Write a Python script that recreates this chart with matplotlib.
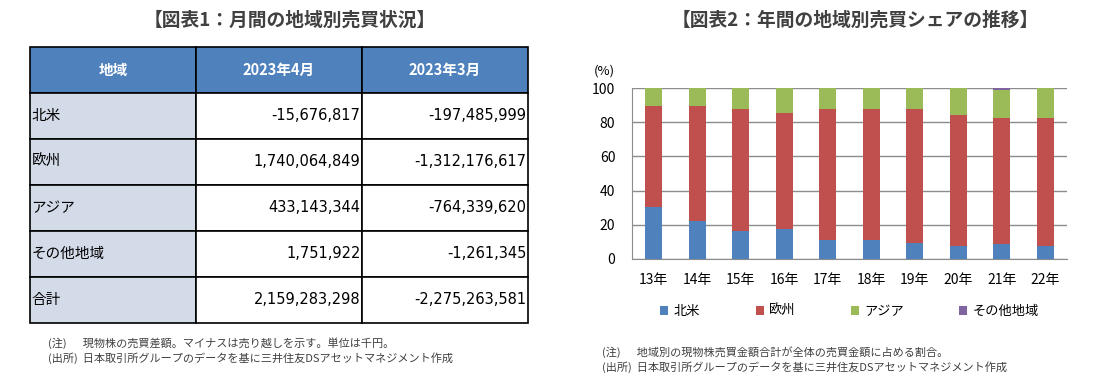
import matplotlib.pyplot as plt
import numpy as np

plt.rcParams['font.family'] = ['Noto Sans CJK JP', 'DejaVu Sans']

# table data (単位: 千円)
regions = ['北米', '欧州', 'アジア', 'その他地域', '合計']
col_header = ['地域', '2023年4月', '2023年3月']
apr = ['-15,676,817', '1,740,064,849', '433,143,344', '1,751,922', '2,159,283,298']
mar = ['-197,485,999', '-1,312,176,617', '-764,339,620', '-1,261,345', '-2,275,263,581']

# share chart data (%)
years = ['13年', '14年', '15年', '16年', '17年', '18年', '19年', '20年', '21年', '22年']
na = [30.5, 22.4, 16.5, 17.7, 11.1, 11.1, 9.5, 7.8, 8.6, 7.8]
eu = [59.0, 67.1, 71.2, 67.5, 76.6, 76.6, 78.2, 76.4, 73.7, 74.5]
asia = [10.4, 10.4, 12.2, 14.7, 12.2, 12.2, 12.2, 15.6, 16.5, 17.5]
other = [0.1, 0.1, 0.1, 0.1, 0.1, 0.1, 0.1, 0.2, 1.2, 0.2]
series_names = ['北米', '欧州', 'アジア', 'その他地域']
colors = ['#4F81BD', '#C0504D', '#9BBB59', '#8064A2']

W, H = 1118, 381
fig = plt.figure(figsize=(W / 100, H / 100), dpi=100)

def px_axes(x0, y0, x1, y1):
    return fig.add_axes([x0 / W, 1 - y1 / H, (x1 - x0) / W, (y1 - y0) / H])

# ---- left: table ----
tax = px_axes(30, 47, 528, 323)
tax.axis('off')
cell_text = [[r, a, m] for r, a, m in zip(regions, apr, mar)]
tbl = tax.table(cellText=cell_text, colLabels=col_header, bbox=[0, 0, 1, 1])
tbl.auto_set_font_size(False)
for (r, c), cell in tbl.get_celld().items():
    cell.set_edgecolor('black')
    cell.set_linewidth(1.2)
    cell.PAD = 0.01
    txt = cell.get_text()
    txt.set_fontsize(10.5)
    if r == 0:
        cell.set_facecolor('#4F81BD')
        txt.set_color('white')
        txt.set_fontweight('bold')
        txt.set_fontsize(10.5)
        txt.set_ha('center')
    elif c == 0:
        cell.set_facecolor('#D3DAE8')
        txt.set_ha('left')
    else:
        cell.set_facecolor('white')
        txt.set_ha('right')
        txt.set_family(['DejaVu Sans'])

fig.text(290 / W, 1 - 20 / H, '【図表1：月間の地域別売買状況】', ha='center', va='center',
         fontsize=13.5, fontweight='bold', color='#404040')
fig.text(48 / W, 1 - 343 / H, '(注)　  現物株の売買差額。マイナスは売り越しを示す。単位は千円。',
         fontsize=8, color='#404040', va='center')
fig.text(48 / W, 1 - 358 / H, '(出所)  日本取引所グループのデータを基に三井住友DSアセットマネジメント作成',
         fontsize=8, color='#404040', va='center')

# ---- right: stacked bar chart ----
ax = px_axes(632, 88, 1067, 259)
x = np.arange(len(years))
bottom = np.zeros(len(years))
for vals, name, col in zip([na, eu, asia, other], series_names, colors):
    ax.bar(x, vals, 0.39, bottom=bottom, color=col, label=name, zorder=3)
    bottom += np.array(vals)

ax.set_xlim(-0.5, len(years) - 0.5)
ax.set_ylim(0, 100)
ax.set_yticks(range(0, 101, 20))
ax.set_xticks(x)
ax.set_xticklabels(years)
ax.grid(axis='y', color='#8C8C8C', linewidth=1, zorder=0)
for s in ['top', 'right']:
    ax.spines[s].set_visible(False)
for s in ['left', 'bottom']:
    ax.spines[s].set_color('#8C8C8C')
ax.tick_params(axis='both', length=0, labelsize=10, colors='black')
ax.tick_params(axis='x', pad=10)
ax.tick_params(axis='y', pad=12)
ax.text(-0.04, 1.06, '(%)', transform=ax.transAxes, ha='right', va='bottom', fontsize=9.5)

leg = ax.legend(loc='upper center', bbox_to_anchor=(0.5, -0.2), ncol=4, frameon=False,
                handlelength=0.6, handleheight=0.6, handletextpad=0.4,
                columnspacing=4.2, fontsize=9.5)

fig.text(855 / W, 1 - 20 / H, '【図表2：年間の地域別売買シェアの推移】', ha='center', va='center',
         fontsize=13.5, fontweight='bold', color='#404040')
fig.text(602 / W, 1 - 352 / H, '(注)　  地域別の現物株売買金額合計が全体の売買金額に占める割合。',
         fontsize=8, color='#404040', va='center')
fig.text(602 / W, 1 - 367 / H, '(出所)  日本取引所グループのデータを基に三井住友DSアセットマネジメント作成',
         fontsize=8, color='#404040', va='center')

fig.savefig('out.png', dpi=100)
